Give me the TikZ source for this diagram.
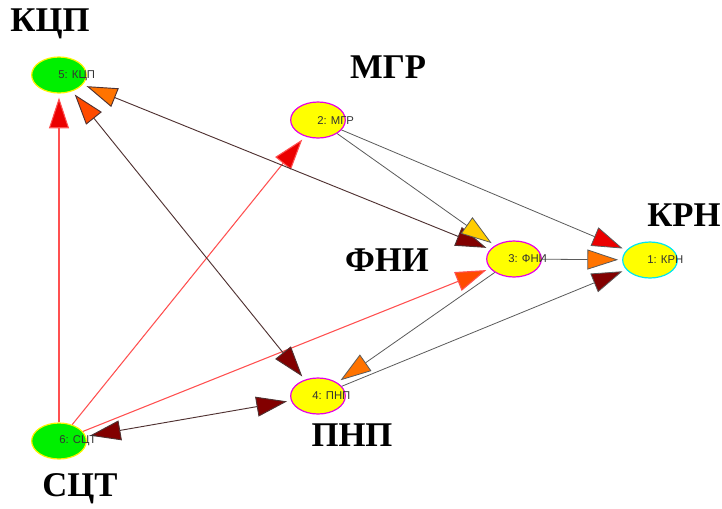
\documentclass[tikz,border=0pt]{standalone}
\usepackage{fontspec}
\setmainfont{Liberation Serif}
\newfontfamily\lsans{Liberation Sans}
\usetikzlibrary{arrows.meta,shapes.geometric}
\definecolor{cgreen}{RGB}{0,240,0}
\definecolor{cyel}{RGB}{255,255,0}
\definecolor{cmag}{RGB}{230,0,230}
\definecolor{ccyan}{RGB}{0,230,240}
\definecolor{linered}{RGB}{255,80,80}
\definecolor{linedark}{RGB}{80,50,50}
\definecolor{linegray}{RGB}{90,90,90}
\definecolor{hred}{RGB}{235,0,0}
\definecolor{horange}{RGB}{255,115,0}
\definecolor{hored}{RGB}{255,75,0}
\definecolor{hdark}{RGB}{130,0,0}
\definecolor{hgold}{RGB}{255,205,0}
\tikzset{
  vert/.style={ellipse, minimum width=41pt, minimum height=27pt, inner sep=0pt, line width=0.9pt},
  gnode/.style={vert, fill=cgreen, draw=yellow},
  ynode/.style={vert, fill=cyel, draw=cmag},
  vlabel/.style={font=\lsans\fontsize{8.5}{9}\selectfont, text=black!80, anchor=west, inner sep=0pt},
  big/.style={font=\bfseries\fontsize{26}{28}\selectfont, inner sep=0pt},
  redline/.style={draw=linered, line width=0.8pt},
  darkline/.style={draw=linedark, line width=0.7pt},
  grayline/.style={draw=linegray, line width=0.6pt},
  arr/.style={arrows={-{Triangle[length=23pt,width=15pt,fill=#1]}}, shorten >=3pt},
  arrb/.style 2 args={arrows={{Triangle[length=23pt,width=15pt,fill=#1]}-{Triangle[length=23pt,width=15pt,fill=#2]}}, shorten >=3pt, shorten <=3pt},
}
\begin{document}
\begin{tikzpicture}[x=0.75pt,y=-0.75pt]
\useasboundingbox (0,0) rectangle (722,508);
% vertices
\node[gnode] (n5) at (59,75) {};
\node[ynode] (n2) at (318,120) {};
\node[ynode] (n3) at (514,259) {};
\node[vert, fill=cyel, draw=ccyan] (n1) at (650,260) {};
\node[ynode] (n4) at (318,396) {};
\node[gnode] (n6) at (59,441) {};
% edges
\draw[redline, arr=hred] (n6) -- (n5);
\draw[redline, arr=hred] (n6) -- (n2);
\draw[redline, arr=hored] (n6) -- (n3);
\draw[darkline, arrb={hdark}{hdark}] (n6) -- (n4);
\draw[darkline, arrb={horange}{hdark}] (n5) -- (n3);
\draw[darkline, arrb={hored}{hdark}] (n5) -- (n4);
\draw[grayline, arr=hgold] (n2) -- (n3);
\draw[grayline, arr=hred] (n2) -- (n1);
\draw[grayline, arr=horange] (n3) -- (n1);
\draw[grayline, arr=hdark] (n4) -- (n1);
\draw[grayline, arr=horange] (n3) -- (n4);
% vertex labels
\node[vlabel] (t5) at (58,76) {5: КЦП};
\node[vlabel] (t2) at (317,121) {2: МГР};
\node[vlabel] (t3) at (508,259) {3: ФНИ};
\node[vlabel] (t1) at (647,260) {1: КРН};
\node[vlabel] (t4) at (312,396) {4: ПНП};
\node[vlabel] (t6) at (59,441) {6: СЦТ};
% big labels
\node[big] (b5) at (50,24) {КЦП};
\node[big] (b2) at (388,67) {МГР};
\node[big] (b3) at (387,260) {ФНИ};
\node[big] (b1) at (684,215) {КРН};
\node[big] (b4) at (352,435) {ПНП};
\node[big] (b6) at (80,489) {СЦТ};
\end{tikzpicture}
\end{document}
